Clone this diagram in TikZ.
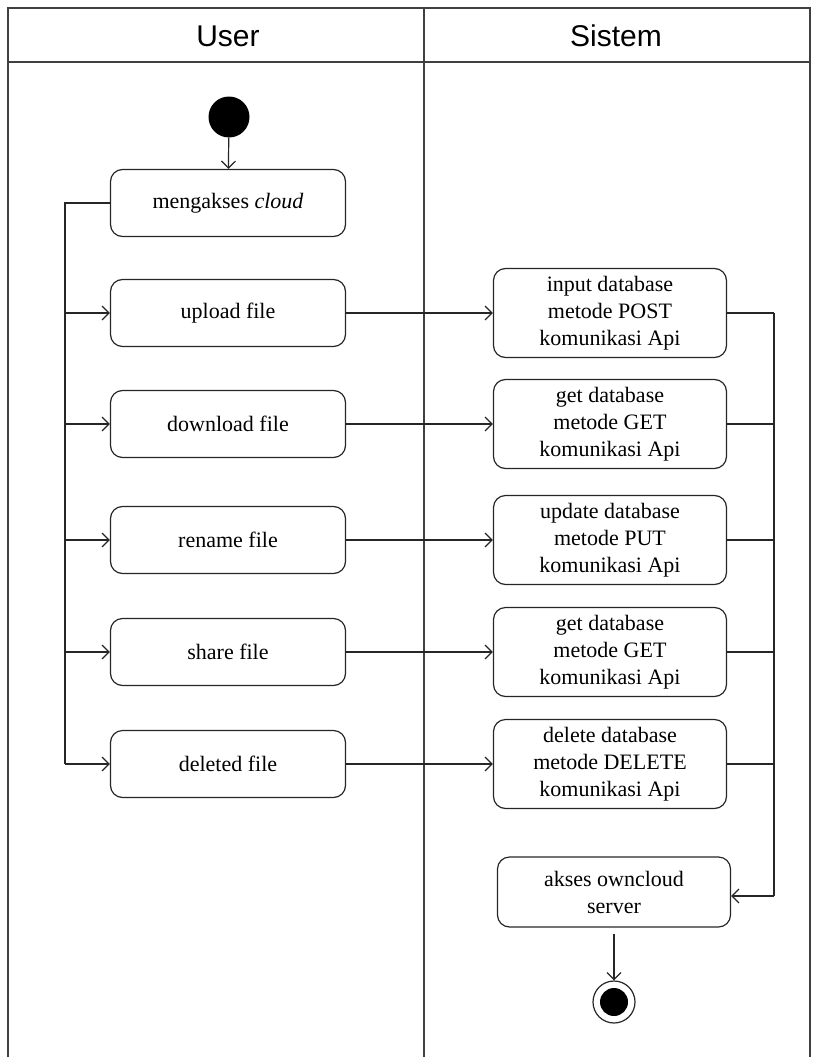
\documentclass[tikz,border=0pt]{standalone}
\usepackage{fontspec}
\setmainfont{Liberation Serif}
\newfontfamily\headfont{Liberation Sans}
\usetikzlibrary{arrows.meta}

\begin{document}
\begin{tikzpicture}[x=1pt,y=-1pt,
  act/.style={draw=black!85, rounded corners=12pt, line width=1.2pt,
    minimum width=235pt, minimum height=67pt, align=center,
    font=\fontsize{22}{27}\selectfont, inner sep=0pt},
  sysact/.style={act, minimum width=233pt, minimum height=89pt},
  flow/.style={draw=black!85, line width=1.2pt, -{Straight Barb[length=7pt,width=14pt,line width=1.2pt]}},
  link/.style={draw=black!85, line width=1.2pt},
  lane/.style={draw=black!75, line width=1.3pt},
  head/.style={font=\headfont\fontsize{30}{34}\selectfont}]
\useasboundingbox (0,0) rectangle (812,1057);

% swimlanes
\draw[lane] (8,1060) -- (8,8) -- (810,8) -- (810,1060);
\draw[lane] (8,62) -- (810,62);
\draw[lane] (424,8) -- (424,1060);
\node[head] (huser) at (228,36) {User};
\node[head] (hsys) at (616,36) {Sistem};

% user lane
\node[circle, fill=black, minimum size=41pt, inner sep=0pt] (start) at (229,117) {};
\node[act] (akses) at (228,203) {mengakses \textit{cloud}};
\node[act] (up) at (228,313) {upload file};
\node[act] (down) at (228,424) {download file};
\node[act] (ren) at (228,540) {rename file};
\node[act] (share) at (228,652) {share file};
\node[act] (del) at (228,764) {deleted file};

% system lane
\node[sysact] (sup) at (610,313) {input database\\metode POST\\komunikasi Api};
\node[sysact] (sdown) at (610,424) {get database\\metode GET\\komunikasi Api};
\node[sysact] (sren) at (610,540) {update database\\metode PUT\\komunikasi Api};
\node[sysact] (sshare) at (610,652) {get database\\metode GET\\komunikasi Api};
\node[sysact] (sdel) at (610,764) {delete database\\metode DELETE\\komunikasi Api};
\node[act, minimum width=233pt, minimum height=70pt] (own) at (614,892) {akses owncloud\\server};
\node[circle, draw=black!85, line width=1.2pt, minimum size=42pt, inner sep=0pt] (end) at (614,1002) {};
\node[circle, fill=black, minimum size=28pt, inner sep=0pt] (endin) at (end) {};

% flows
\draw[flow] (start) -- (akses);
\coordinate (bus) at (65,203);
\draw[link] (akses.west) -- (bus) -- (bus |- del);
\foreach \n in {up,down,ren,share,del}
  \draw[flow] (bus |- \n) -- (\n.west);
\draw[flow] (up.east) -- (sup.west);
\draw[flow] (down.east) -- (sdown.west);
\draw[flow] (ren.east) -- (sren.west);
\draw[flow] (share.east) -- (sshare.west);
\draw[flow] (del.east) -- (sdel.west);

\coordinate (rbus) at (774,313);
\foreach \n in {sup,sdown,sren,sshare,sdel}
  \draw[link] (\n.east) -- (rbus |- \n);
\draw[link] (rbus) -- (774,896);
\draw[flow] (774,896) -- (own.east |- 0,896);
\draw[flow] ([yshift=-6pt]own.south) -- (end.north);
\end{tikzpicture}
\end{document}
